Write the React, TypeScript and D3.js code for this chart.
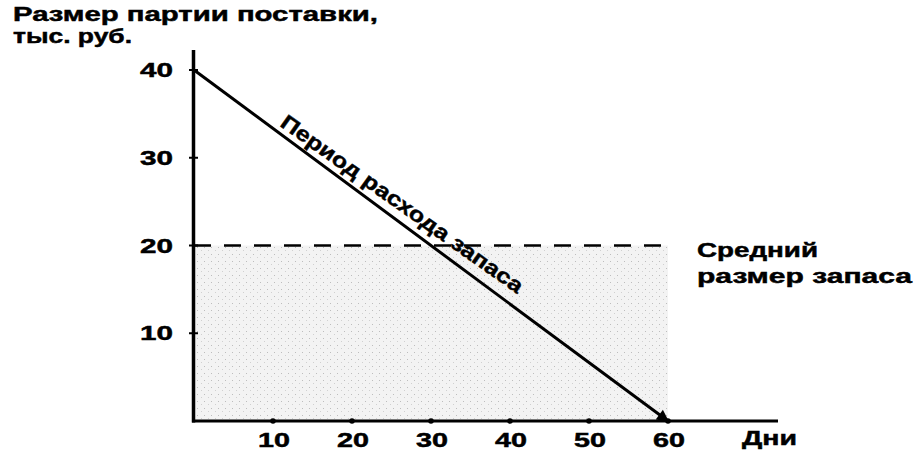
import React from "react";
import * as d3 from "d3";

const days = [0, 60];
const stockValues = [40, 0];
const xTickValues = [10, 20, 30, 40, 50, 60];
const yTickValues = [10, 20, 30, 40];
const averageStock = 20;
const yTitleLines = ["Размер партии поставки,", "тыс. руб."];
const xTitle = "Дни";
const avgLabelLines = ["Средний", "размер запаса"];
const lineLabel = "Период расхода запаса";

const FONT = "'Liberation Sans', Arial, sans-serif";

export default function App() {
  const W = 914;
  const H = 455;
  const x = d3.scaleLinear().domain([0, 60]).range([194, 668]);
  const y = d3.scaleLinear().domain([0, 40]).range([421, 70]);

  const pts = days.map((d, i) => [x(d), y(stockValues[i])] as [number, number]);
  const linePath = d3.line()(pts) || "";

  // label along the consumption line
  const labelAngle = 35.3;
  const labelStartDay = 10.3;
  const lx = x(labelStartDay);
  const ly = y(40 - (labelStartDay / 60) * 40);
  const lineRad = Math.atan2(pts[1][1] - pts[0][1], pts[1][0] - pts[0][0]);
  const off = 6;
  const tx = lx + Math.sin(lineRad) * off;
  const ty = ly - Math.cos(lineRad) * off;

  const area =
    d3
      .area<number>()
      .x((d) => x(d))
      .y0(y(0))
      .y1(y(averageStock))([0, 60]) || "";

  const textStyle: React.CSSProperties = {
    fontFamily: FONT,
    fontWeight: "bold",
    fontSize: 19.5,
    fill: "#000",
    stroke: "#000",
    strokeWidth: 0.45,
  };

  return (
    <svg
      width={W}
      height={H}
      style={{ position: "absolute", left: 0, top: 0, background: "#fff" }}
    >
      <defs>
        <marker
          id="arrow"
          viewBox="0 0 10 10"
          refX="9"
          refY="5"
          markerWidth="5"
          markerHeight="4"
          orient="auto"
          markerUnits="strokeWidth"
        >
          <path d="M0,0 L10,5 L0,10 z" fill="#000" />
        </marker>
        <pattern id="stipple" width="7" height="7" patternUnits="userSpaceOnUse">
          <rect width="7" height="7" fill="#f3f3f3" />
          <rect x="1" y="2" width="1" height="1" fill="#bdbdbd" />
          <rect x="5" y="5" width="1" height="1" fill="#d0d0d0" />
        </pattern>
      </defs>

      <path d={area} fill="url(#stipple)" />

      <line
        x1={x(0)}
        x2={x(60) + 3}
        y1={y(averageStock)}
        y2={y(averageStock)}
        stroke="#000"
        strokeWidth={2.5}
        strokeDasharray="17 13"
      />

      {/* axes */}
      <line x1={193.5} x2={193.5} y1={50} y2={y(0) + 1.5} stroke="#000" strokeWidth={3.5} />
      <line x1={192} x2={778} y1={y(0)} y2={y(0)} stroke="#000" strokeWidth={3} />

      {yTickValues.map((v) => (
        <g key={"y" + v}>
          <line x1={189} x2={198} y1={y(v)} y2={y(v)} stroke="#000" strokeWidth={2} />
          <text
            x={140}
            y={y(v) + 7}
            textLength={33}
            lengthAdjust="spacingAndGlyphs"
            style={textStyle}
          >
            {v}
          </text>
        </g>
      ))}

      {xTickValues.map((v) => (
        <g key={"x" + v}>
          <circle cx={x(v)} cy={y(0)} r={2.8} fill="#000" />
          <text
            x={x(v) + 1 - 16}
            y={447}
            textLength={32}
            lengthAdjust="spacingAndGlyphs"
            style={textStyle}
          >
            {v}
          </text>
        </g>
      ))}

      <path
        d={linePath}
        fill="none"
        stroke="#000"
        strokeWidth={3}
        markerEnd="url(#arrow)"
      />

      <text
        x={tx}
        y={ty}
        transform={`rotate(${labelAngle} ${tx} ${ty})`}
        textLength={292}
        lengthAdjust="spacingAndGlyphs"
        style={{ ...textStyle, fontSize: 21 }}
      >
        {lineLabel}
      </text>

      {yTitleLines.map((t, i) => (
        <text
          key={t}
          x={13}
          y={21 + i * 22}
          textLength={i === 0 ? 365 : 119}
          lengthAdjust="spacingAndGlyphs"
          style={textStyle}
        >
          {t}
        </text>
      ))}

      {avgLabelLines.map((t, i) => (
        <text
          key={t}
          x={697}
          y={257 + i * 26}
          textLength={i === 0 ? 121 : 215}
          lengthAdjust="spacingAndGlyphs"
          style={textStyle}
        >
          {t}
        </text>
      ))}

      <text
        x={742}
        y={445}
        textLength={55}
        lengthAdjust="spacingAndGlyphs"
        style={textStyle}
      >
        {xTitle}
      </text>
    </svg>
  );
}
